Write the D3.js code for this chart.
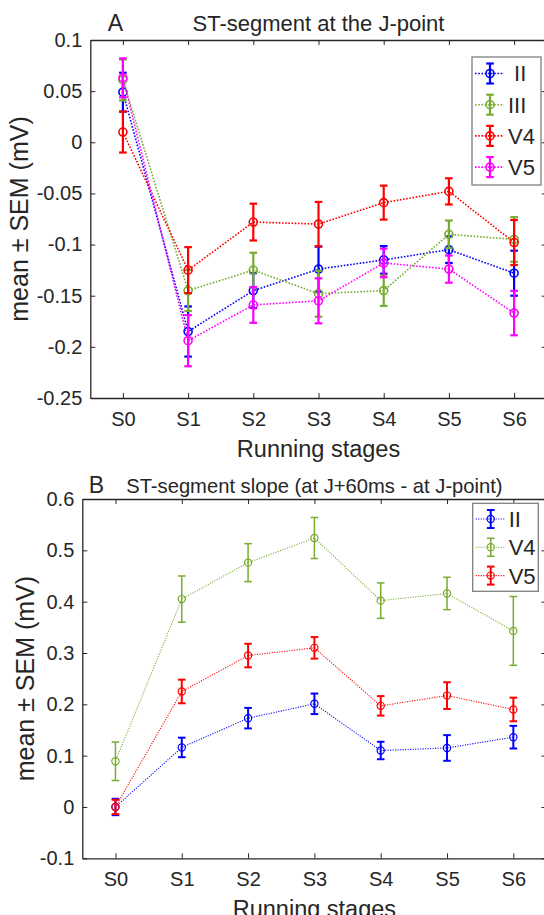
<!DOCTYPE html>
<html>
<head>
<meta charset="utf-8">
<script src="https://cdn.jsdelivr.net/npm/d3@7"></script>
<style>
  body { margin: 0; background: #fff; }
  text { font-family: "Liberation Sans", Arial, sans-serif; fill: #262626; }
</style>
</head>
<body>
<script>
// DATA
const stages = ["S0", "S1", "S2", "S3", "S4", "S5", "S6"];

// panel A - ST-segment at the J-point
const meanA_II  = [0.049, -0.185, -0.145, -0.124, -0.115, -0.105, -0.128];
const semA_II   = [0.019, 0.0245, 0.017, 0.022, 0.0135, 0.013, 0.022];
const meanA_III = [0.061, -0.145, -0.125, -0.148, -0.145, -0.090, -0.095];
const semA_III  = [0.020, 0.020, 0.017, 0.0225, 0.015, 0.0135, 0.0218];
const meanA_V4  = [0.010, -0.125, -0.078, -0.080, -0.059, -0.048, -0.098];
const semA_V4   = [0.020, 0.0225, 0.018, 0.0217, 0.0166, 0.0128, 0.022];
const meanA_V5  = [0.063, -0.194, -0.159, -0.155, -0.118, -0.124, -0.167];
const semA_V5   = [0.019, 0.025, 0.0175, 0.022, 0.014, 0.0133, 0.0217];
const ticksA = [0.1, 0.05, 0, -0.05, -0.1, -0.15, -0.2, -0.25];

// panel B - ST-segment slope
const meanB_II = [0.0, 0.116, 0.173, 0.201, 0.110, 0.115, 0.136];
const semB_II  = [0.016, 0.019, 0.020, 0.020, 0.017, 0.025, 0.022];
const meanB_V4 = [0.089, 0.405, 0.476, 0.524, 0.402, 0.416, 0.343];
const semB_V4  = [0.0375, 0.045, 0.037, 0.040, 0.0345, 0.0315, 0.067];
const meanB_V5 = [0.0, 0.225, 0.295, 0.310, 0.197, 0.217, 0.190];
const semB_V5  = [0.014, 0.023, 0.023, 0.021, 0.019, 0.026, 0.023];
const ticksB = [0.6, 0.5, 0.4, 0.3, 0.2, 0.1, 0, -0.1];

// COLOURS
const blue = "#0000ff", green = "#77ac30", red = "#ff0000", magenta = "#ff00ff";
const axisCol = "#262626";

// SVG
const svg = d3.select("body").append("svg")
  .attr("width", 544)
  .attr("height", 915);

function drawPanel(cfg) {
  const x = d3.scalePoint().domain(stages).range([cfg.left, cfg.right]).padding(0.5);
  const y = d3.scaleLinear().domain(cfg.yDomain).range([cfg.bottom, cfg.top]);
  const g = svg.append("g");
  const tl = 5;

  // axes (matlab style: ticks inside, box on)
  const xAx = g.append("g").attr("transform", `translate(0,${cfg.bottom})`)
    .call(d3.axisBottom(x).tickSizeInner(-tl).tickSizeOuter(0).tickPadding(14));
  const xTop = g.append("g").attr("transform", `translate(0,${cfg.top})`)
    .call(d3.axisTop(x).tickSizeInner(-tl).tickSizeOuter(0).tickFormat(""));
  const yAx = g.append("g").attr("transform", `translate(${cfg.left},0)`)
    .call(d3.axisLeft(y).tickValues(cfg.ticks).tickSizeInner(-tl).tickSizeOuter(0)
      .tickPadding(8).tickFormat(d => String(+d.toFixed(3))));
  const yRight = g.append("g").attr("transform", `translate(${cfg.right},0)`)
    .call(d3.axisRight(y).tickValues(cfg.ticks).tickSizeInner(-tl).tickSizeOuter(0).tickFormat(""));
  [xAx, xTop, yAx, yRight].forEach(a => {
    a.select(".domain").attr("stroke", axisCol).attr("stroke-width", 1.3);
    a.selectAll(".tick line").attr("stroke", axisCol).attr("stroke-width", 1);
    a.selectAll("text").style("font-size", "20px").attr("fill", axisCol)
      .style("font-family", '"Liberation Sans", Arial, sans-serif');
  });
  xAx.selectAll("text").attr("dy", "0.7em");

  // series
  cfg.series.forEach(s => {
    const pts = stages.map((st, i) => ({st: st, m: s.mean[i], e: s.sem[i]}));
    g.append("path").datum(pts)
      .attr("fill", "none").attr("stroke", s.color)
      .attr("stroke-width", cfg.lineW).attr("stroke-dasharray", cfg.dash)
      .attr("d", d3.line().x(d => x(d.st)).y(d => y(d.m)));
    const eb = g.append("g").attr("stroke", s.color).attr("stroke-width", s.ebW || cfg.ebW);
    eb.selectAll("line.v").data(pts).join("line")
      .attr("x1", d => x(d.st)).attr("x2", d => x(d.st))
      .attr("y1", d => y(d.m - d.e)).attr("y2", d => y(d.m + d.e));
    eb.selectAll("line.t").data(pts).join("line")
      .attr("x1", d => x(d.st) - cfg.cap).attr("x2", d => x(d.st) + cfg.cap)
      .attr("y1", d => y(d.m + d.e)).attr("y2", d => y(d.m + d.e));
    eb.selectAll("line.b").data(pts).join("line")
      .attr("x1", d => x(d.st) - cfg.cap).attr("x2", d => x(d.st) + cfg.cap)
      .attr("y1", d => y(d.m - d.e)).attr("y2", d => y(d.m - d.e));
    g.append("g").selectAll("circle").data(pts).join("circle")
      .attr("cx", d => x(d.st)).attr("cy", d => y(d.m)).attr("r", cfg.r)
      .attr("fill", "none").attr("stroke", s.color).attr("stroke-width", cfg.markW);
  });

  // legend
  const L = cfg.legend;
  g.append("rect").attr("x", L.x).attr("y", L.y).attr("width", L.w).attr("height", L.h)
    .attr("fill", "#fff").attr("stroke", "#7f7f7f").attr("stroke-width", 1.3);
  cfg.series.forEach((s, i) => {
    const cy = L.y + L.row0 + i * L.step;
    const lg = g.append("g");
    lg.append("line").attr("x1", L.x + 3).attr("x2", L.x + 32).attr("y1", cy).attr("y2", cy)
      .attr("stroke", s.color).attr("stroke-width", cfg.lineW).attr("stroke-dasharray", cfg.dash);
    const mx = L.x + 18;
    lg.append("line").attr("x1", mx).attr("x2", mx).attr("y1", cy - L.eb).attr("y2", cy + L.eb)
      .attr("stroke", s.color).attr("stroke-width", s.ebW || cfg.ebW);
    [-L.eb, L.eb].forEach(o => lg.append("line")
      .attr("x1", mx - cfg.cap).attr("x2", mx + cfg.cap).attr("y1", cy + o).attr("y2", cy + o)
      .attr("stroke", s.color).attr("stroke-width", s.ebW || cfg.ebW));
    lg.append("circle").attr("cx", mx).attr("cy", cy).attr("r", cfg.r)
      .attr("fill", "none").attr("stroke", s.color).attr("stroke-width", cfg.markW);
    lg.append("text").attr("x", L.x + 36).attr("y", cy).attr("dy", "0.36em")
      .style("font-size", "22px").style("white-space", "pre").attr("fill", "#000")
      .text(s.name);
  });

  // titles & labels
  const cx = (cfg.left + cfg.right) / 2;
  g.append("text").attr("x", cx).attr("y", cfg.titleY).attr("text-anchor", "middle")
    .style("font-size", cfg.titleSize).attr("fill", "#000").text(cfg.title);
  g.append("text").attr("x", cfg.letterX).attr("y", cfg.titleY).attr("text-anchor", "middle")
    .style("font-size", "23px").attr("fill", "#000").text(cfg.letter);
  g.append("text").attr("x", cx).attr("y", cfg.bottom + 59).attr("text-anchor", "middle")
    .style("font-size", "23.5px").attr("fill", axisCol).text("Running stages");
  g.append("text").attr("transform", `translate(${cfg.ylabX},${(cfg.top + cfg.bottom) / 2}) rotate(-90)`)
    .attr("text-anchor", "middle").style("font-size", "25px").attr("fill", axisCol)
    .text("mean \u00b1 SEM (mV)");
}

drawPanel({
  left: 90.3, right: 546.7, top: 40, bottom: 398,
  yDomain: [-0.25, 0.1], ticks: ticksA,
  title: "ST-segment at the J-point", titleSize: "22px",
  letter: "A", letterX: 115.5, titleY: 30.5, ylabX: 28,
  lineW: 1.6, dash: "1.6,1.6", ebW: 2.2, cap: 3.8, r: 4, markW: 1.6,
  series: [
    {name: " II", mean: meanA_II, sem: semA_II, color: blue},
    {name: "III", mean: meanA_III, sem: semA_III, color: green},
    {name: "V4", mean: meanA_V4, sem: semA_V4, color: red},
    {name: "V5", mean: meanA_V5, sem: semA_V5, color: magenta}
  ],
  legend: {x: 472, y: 57, w: 69, h: 128, row0: 16.5, step: 31.2, eb: 10}
});

drawPanel({
  left: 82.3, right: 546.5, top: 499, bottom: 858.3,
  yDomain: [-0.1, 0.6], ticks: ticksB,
  title: "ST-segment slope (at J+60ms - at J-point)", titleSize: "20.2px",
  letter: "B", letterX: 96.5, titleY: 492.5, ylabX: 34,
  lineW: 1.1, dash: "1.1,1.4", ebW: 2, cap: 3.8, r: 3.6, markW: 1.2,
  series: [
    {name: "II", mean: meanB_II, sem: semB_II, color: blue},
    {name: "V4", mean: meanB_V4, sem: semB_V4, color: green, ebW: 1.5},
    {name: "V5", mean: meanB_V5, sem: semB_V5, color: red}
  ],
  legend: {x: 472.7, y: 503.3, w: 65.6, h: 88, row0: 15.7, step: 28.3, eb: 9}
});
</script>
</body>
</html>
